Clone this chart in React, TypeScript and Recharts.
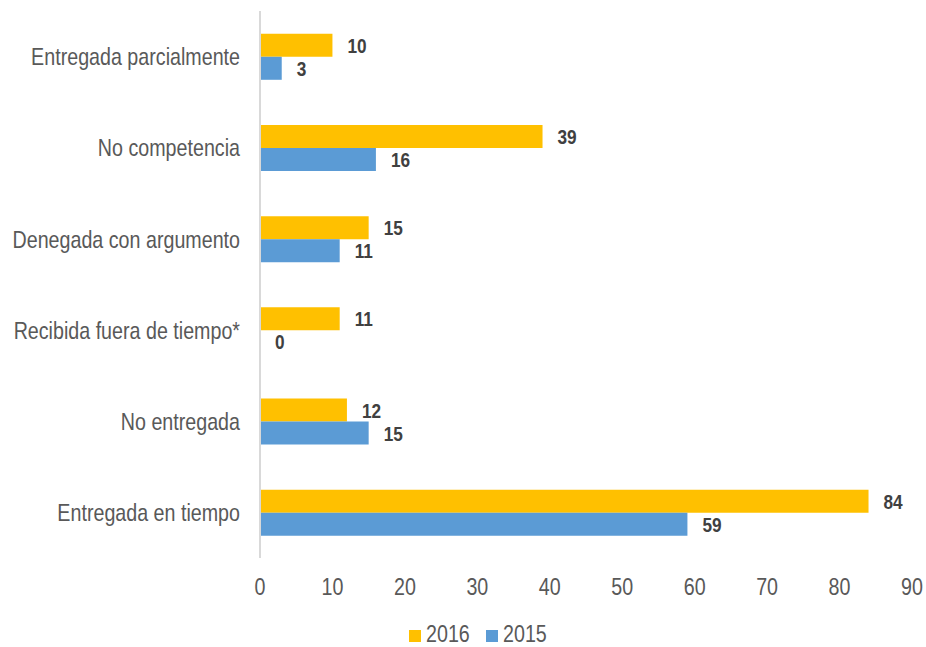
import React from 'react';
import {
  BarChart,
  Bar,
  XAxis,
  YAxis,
  Legend,
  LabelList,
} from 'recharts';

const categories = [
  'Entregada parcialmente',
  'No competencia',
  'Denegada con argumento',
  'Recibida fuera de tiempo*',
  'No entregada',
  'Entregada en tiempo',
];
const values2016 = [10, 39, 15, 11, 12, 84];
const values2015 = [3, 16, 11, 0, 15, 59];
const xTicks = [0, 10, 20, 30, 40, 50, 60, 70, 80, 90];
const seriesNames = ['2016', '2015'];

const data = categories.map((name, i) => ({
  name,
  y2016: values2016[i],
  y2015: values2015[i],
}));

// no Arial Narrow here, so squeeze Liberation Sans horizontally
const FONT = "'Liberation Sans', Arial, sans-serif";
const NARROW = 0.82;
const YELLOW = '#FFC000';
const BLUE = '#5B9BD5';
const GREY_TXT = '#595959';

const YTick = (props: any) => {
  const { x, y, payload } = props;
  return (
    <text
      transform={`translate(${x},${y}) scale(${NARROW},1)`}
      textAnchor="end"
      dy="0.36em"
      fill={GREY_TXT}
      fontSize={24}
      fontFamily={FONT}
    >
      {payload.value}
    </text>
  );
};

const XTick = (props: any) => {
  const { x, y, payload } = props;
  return (
    <text
      transform={`translate(${x},${y}) scale(${NARROW},1)`}
      textAnchor="middle"
      dy={31}
      fill={GREY_TXT}
      fontSize={24}
      fontFamily={FONT}
    >
      {payload.value}
    </text>
  );
};

const ValueLabel = (props: any) => {
  const { x, y, width, height, value } = props;
  const lx = Number(x) + Number(width) + 15;
  const ly = Number(y) + Number(height) / 2;
  return (
    <text
      transform={`translate(${lx},${ly}) scale(${NARROW},1)`}
      textAnchor="start"
      dy="0.36em"
      fill="#404040"
      fontSize={21}
      fontWeight="bold"
      fontFamily={FONT}
    >
      {value}
    </text>
  );
};

const LegendContent = () => {
  const colors = [YELLOW, BLUE];
  const starts = [409, 486];
  return (
    <svg width={926} height={50} style={{ display: 'block' }}>
      {seriesNames.map((n, i) => (
        <g key={n}>
          <rect x={starts[i]} y={33} width={12} height={12} fill={colors[i]} />
          <text
            transform={`translate(${starts[i] + 17},${45}) scale(${NARROW},1)`}
            fill={GREY_TXT}
            fontSize={24}
            fontFamily={FONT}
          >
            {n}
          </text>
        </g>
      ))}
    </svg>
  );
};

// zero-valued bars get a hairline width so their label still shows
const zeroMin = (value: any) => (value === 0 ? 0.01 : 0);

export default function App() {
  return (
    <div style={{ position: 'fixed', left: 0, top: 0, width: 926, height: 647, background: '#fff' }}>
      <BarChart
        width={926}
        height={647}
        data={data}
        layout="vertical"
        margin={{ top: 11, right: 14, left: 0, bottom: 5 }}
        barCategoryGap="25%"
        barGap={0}
      >
        <XAxis
          type="number"
          domain={[0, 90]}
          ticks={xTicks}
          interval={0}
          axisLine={false}
          tickLine={false}
          tickMargin={0}
          height={34}
          tick={<XTick />}
        />
        <YAxis
          type="category"
          dataKey="name"
          width={260}
          axisLine={{ stroke: '#D9D9D9', strokeWidth: 2 }}
          tickLine={false}
          tickMargin={14}
          tick={<YTick />}
        />
        <Legend
          verticalAlign="bottom"
          height={50}
          content={<LegendContent />}
          wrapperStyle={{ left: 0, bottom: 0, width: 926, height: 50 }}
        />
        <Bar dataKey="y2016" name="2016" fill={YELLOW} isAnimationActive={false}>
          <LabelList dataKey="y2016" content={<ValueLabel />} />
        </Bar>
        <Bar dataKey="y2015" name="2015" fill={BLUE} minPointSize={zeroMin} isAnimationActive={false}>
          <LabelList dataKey="y2015" content={<ValueLabel />} />
        </Bar>
      </BarChart>
    </div>
  );
}
